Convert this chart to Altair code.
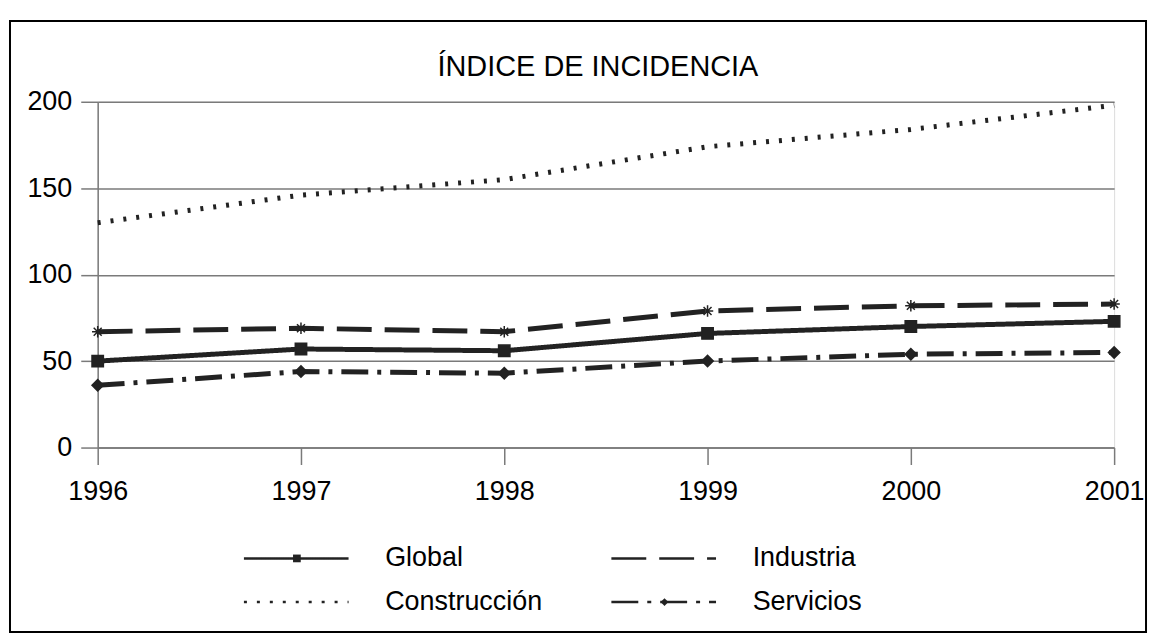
import altair as alt
import pandas as pd

years = [1996, 1997, 1998, 1999, 2000, 2001]
# legend order (Vega fills the 2-column legend column by column)
series_names = ["Global", "Construcción", "Industria", "Servicios"]
global_vals = [50, 57, 56, 66, 70, 73]
construccion_vals = [130, 146, 155, 174, 184, 198]
industria_vals = [67, 69, 67, 79, 82, 83]
servicios_vals = [36, 44, 43, 50, 54, 55]
y_ticks = [0, 50, 100, 150, 200]
title_text = "ÍNDICE DE INCIDENCIA"

# marker legend uses a different domain (trailing space) so Vega-Lite does not merge the two legends
marker_names = [n + " " for n in series_names]

rows = []
for name, mname, vals in zip(series_names, marker_names,
                             [global_vals, construccion_vals, industria_vals, servicios_vals]):
    for yr, v in zip(years, vals):
        rows.append({"year": yr, "value": v, "serie": name, "marker": mname})
df = pd.DataFrame(rows)

FONT = "Liberation Sans"
INK = "#222222"
GRID = "#7a7a7a"
LABEL_FS = 27
LW = 157.5  # estimated width of the longest legend label

dash_range = [[1, 0], [3, 10], [35, 13], [27, 9, 4, 9]]
asterisk = "M-1,0L1,0M0,-1L0,1M-0.7,-0.7L0.7,0.7M-0.7,0.7L0.7,-0.7"
shape_range = ["square", "M0,0Z", asterisk, "diamond"]

x_enc = alt.X(
    "year:Q",
    scale=alt.Scale(domain=[1996, 2001], nice=False, zero=False),
    axis=alt.Axis(values=years, format="d", title=None, grid=False,
                  domainColor=GRID, domainWidth=1.5, tickColor=GRID, tickWidth=1.5,
                  tickSize=17, labelFontSize=27, labelFont=FONT, labelColor="black",
                  labelPadding=14, labelFlush=False),
)
y_enc = alt.Y(
    "value:Q",
    scale=alt.Scale(domain=[0, 200], nice=False),
    axis=alt.Axis(values=y_ticks, title=None, grid=True, gridColor=GRID, gridWidth=1.5,
                  domainColor=GRID, domainWidth=1.5, tickColor=GRID, tickWidth=1.5,
                  tickSize=17, labelFontSize=27, labelFont=FONT, labelColor="black",
                  labelPadding=9),
)

legend_common = dict(
    orient="none", title=None, columns=2, labelFont=FONT, labelFontSize=LABEL_FS,
    labelColor="black", rowPadding=16, padding=0, legendY=444.5,
)

lines = alt.Chart(df).mark_line(strokeWidth=5, color=INK, strokeCap="butt").encode(
    x=x_enc,
    y=y_enc,
    strokeDash=alt.StrokeDash(
        "serie:N",
        scale=alt.Scale(domain=series_names, range=dash_range),
        legend=alt.Legend(symbolType="M0,0H10", symbolSize=441, symbolStrokeWidth=2.5,
                          symbolStrokeColor=INK, symbolFillColor="transparent",
                          labelOffset=128.25, legendX=133.25,
                          columnPadding=213.25 - LW, **legend_common),
    ),
)

# marker-only legend laid over the line legend (no label text of its own)
points = alt.Chart(df).mark_point(filled=True, color=INK, stroke=INK, strokeWidth=1.5,
                                  size=130, opacity=1).encode(
    x=alt.X("year:Q"),
    y=alt.Y("value:Q"),
    shape=alt.Shape(
        "marker:N",
        scale=alt.Scale(domain=marker_names, range=shape_range),
        legend=alt.Legend(symbolSize=60, symbolFillColor=INK, symbolStrokeColor=INK,
                          symbolStrokeWidth=1.5, labelOffset=82.85, legendX=186.4,
                          labelExpr="''", columnPadding=258.9, **legend_common),
    ),
)

frame = alt.Chart(pd.DataFrame({"k": [0]})).mark_rect(
    fillOpacity=0, stroke="black", strokeWidth=2
).encode(
    x=alt.value(-88), x2=alt.value(1052), y=alt.value(-81), y2=alt.value(532)
)

title = alt.Chart(pd.DataFrame({"t": [title_text]})).mark_text(
    font=FONT, fontSize=29, color="black", align="center", baseline="alphabetic"
).encode(text="t:N", x=alt.value(502), y=alt.value(-26))

chart = alt.layer(frame, lines, points, title).properties(
    width=1020,
    height=347,
    autosize=alt.AutoSizeParams(type="none"),
    padding={"left": 90, "top": 93, "right": 36, "bottom": 186},
).configure_view(stroke=None).configure(background="white")

chart.save("out.html", embed_options={"renderer": "svg", "actions": False})
